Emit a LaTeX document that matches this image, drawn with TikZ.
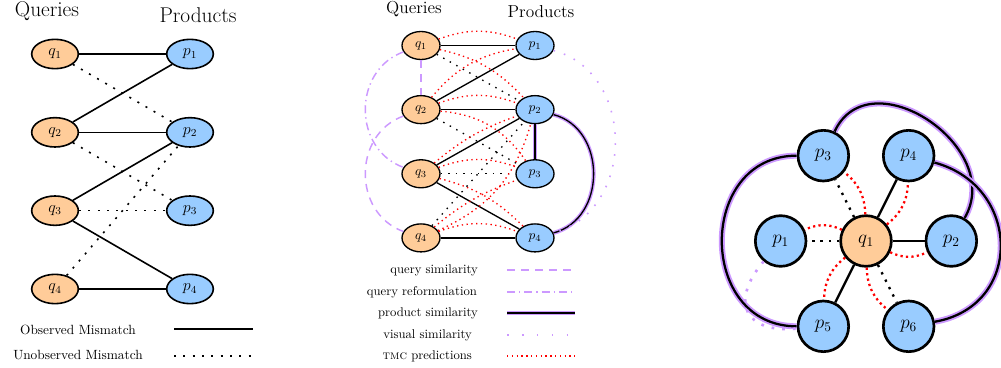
\documentclass[tikz,border=0pt]{standalone}
\usepackage{color}
\usepackage{tikz}
\usepackage{amsmath}
\usepackage{amssymb}
\usetikzlibrary{arrows,automata,shapes.geometric}

\definecolor{qorange}{RGB}{255,204,153}
\definecolor{pblue}{RGB}{153,204,255}
\definecolor{simpurple}{RGB}{204,153,255}

\begin{document}
\begin{tikzpicture}[x=0.75pt,y=-0.75pt]
\useasboundingbox (0,0) rectangle (1001,368);

% left: observed and unobserved mismatches
\begin{scope}[node distance=58.75pt,line width=1.2pt]
\tikzstyle{query}=[ellipse,draw=black,fill=qorange,text=black,minimum width=35pt,minimum height=22pt,inner sep=0pt,font=\large]
\tikzstyle{product}=[ellipse,draw=black,fill=pblue,text=black,minimum width=35pt,minimum height=22pt,inner sep=0pt,font=\large]
\tikzstyle{obs}=[draw=black]
\tikzstyle{unobs}=[draw=black,dash pattern=on 1.5pt off 5.5pt]

\node (qhead) at (47,16) [anchor=base,font=\fontsize{16}{19}\selectfont] {Queries};
\node (phead) at (198,22) [anchor=base,font=\fontsize{16}{19}\selectfont] {Products};

\node[query]   (q1) at (55,54)                           {$q_1$};
\node[query]   (q2) [below of=q1]                        {$q_2$};
\node[query]   (q3) [below of=q2]                        {$q_3$};
\node[query]   (q4) [below of=q3]                        {$q_4$};
\node[product] (p1) [node distance=101.25pt,right of=q1] {$p_1$};
\node[product] (p2) [below of=p1]                        {$p_2$};
\node[product] (p3) [below of=p2]                        {$p_3$};
\node[product] (p4) [below of=p3]                        {$p_4$};

\path (q1) edge[obs]   (p1)
           edge[unobs] (p2)
      (q2) edge[obs]   (p1)
           edge[obs]   (p2)
           edge[unobs] (p3)
      (q3) edge[obs]   (p2)
           edge[unobs] (p3)
           edge[obs]   (p4)
      (q4) edge[unobs] (p2)
           edge[obs]   (p4);

\node (obslabel)   at (78,330) {Observed Mismatch};
\node (unobslabel) at (78,355) {Unobserved Mismatch};
\coordinate (obsA)   at (174,329);
\coordinate (obsB)   at (253,329);
\coordinate (unobsA) at (174,356);
\coordinate (unobsB) at (253,356);
\draw[obs]   (obsA) -- (obsB);
\draw[unobs] (unobsA) -- (unobsB);
\end{scope}

% middle: similarities and tmc predictions
\begin{scope}[node distance=48.1pt,line width=1pt]
\tikzstyle{query}=[ellipse,draw=black,fill=qorange,text=black,minimum width=28.5pt,minimum height=21pt,inner sep=0pt]
\tikzstyle{product}=[ellipse,draw=black,fill=pblue,text=black,minimum width=28.5pt,minimum height=21pt,inner sep=0pt]
\tikzstyle{obs}=[draw=black]
\tikzstyle{unobs}=[draw=black,dash pattern=on 1.1pt off 4.5pt]
\tikzstyle{tmc}=[draw=red,dash pattern=on 1pt off 2.6pt]
\tikzstyle{qsim}=[draw=simpurple,line width=1.1pt,dash pattern=on 6pt off 4.5pt]
\tikzstyle{qref}=[draw=simpurple,line width=1.1pt,dash pattern=on 6pt off 3pt on 1pt off 3pt]
\tikzstyle{psim}=[draw=black,preaction={draw=simpurple,line width=3pt}]
\tikzstyle{vsim}=[draw=simpurple,line width=1.2pt,dash pattern=on 1.2pt off 7pt]

\node (qheadb) at (414,13) [anchor=base,font=\fontsize{13}{16}\selectfont] {Queries};
\node (pheadb) at (541,17) [anchor=base,font=\fontsize{13}{16}\selectfont] {Products};

\node[query]   (q1b) at (421,45.5)                        {$q_1$};
\node[query]   (q2b) [below of=q1b]                       {$q_2$};
\node[query]   (q3b) [below of=q2b]                       {$q_3$};
\node[query]   (q4b) [below of=q3b]                       {$q_4$};
\node[product] (p1b) [node distance=85.5pt,right of=q1b]  {$p_1$};
\node[product] (p2b) [below of=p1b]                       {$p_2$};
\node[product] (p3b) [below of=p2b]                       {$p_3$};
\node[product] (p4b) [below of=p3b]                       {$p_4$};

\path (q1b) edge[obs]   (p1b)
            edge[unobs] (p2b)
      (q2b) edge[obs]   (p1b)
            edge[obs]   (p2b)
            edge[unobs] (p3b)
      (q3b) edge[obs]   (p2b)
            edge[unobs] (p3b)
            edge[obs]   (p4b)
      (q4b) edge[unobs] (p2b)
            edge[obs]   (p4b);

\path (q1b) edge[tmc,bend left=20] (p1b)
            edge[tmc,bend left=17] (p2b)
      (q2b) edge[tmc,bend left=20] (p1b)
            edge[tmc,bend left=20] (p2b)
            edge[tmc,bend left=25] (p3b)
      (q3b) edge[tmc,bend left=10] (p2b)
            edge[tmc,bend left=20] (p3b)
            edge[tmc,bend left=15] (p4b)
      (q4b) edge[tmc,bend right=25] (p2b)
            edge[tmc,bend left=10] (p3b)
            edge[tmc,bend left=20] (p4b);

\path (q1b) edge[qsim] (q2b)
      (q2b) edge[qsim,bend right=70,looseness=1.2] (q4b)
      (q1b) edge[qref,bend right=70,looseness=1.2] (q3b)
      (p2b) edge[psim] (p3b)
            edge[psim,out=-15,in=15,looseness=1.2] (p4b)
      (p1b) edge[vsim,out=-15,in=15,looseness=1.2] (p4b);

\begin{scope}[font=\fontsize{9.5}{11}\selectfont]
\node (qsimlabel) at (483,270) [anchor=east] {query similarity};
\node (qreflabel) at (482,292) [anchor=east] {query reformulation};
\node (psimlabel) at (483,313) [anchor=east] {product similarity};
\node (vsimlabel) at (477,335) [anchor=east] {visual similarity};
\node (tmclabel)  at (477,356) [anchor=east] {\textsc{tmc} predictions};
\end{scope}
\coordinate (qsimA) at (507,270);  \coordinate (qsimB) at (575,270);
\coordinate (qrefA) at (507,292);  \coordinate (qrefB) at (575,292);
\coordinate (psimA) at (507,313);  \coordinate (psimB) at (575,313);
\coordinate (vsimA) at (507,335);  \coordinate (vsimB) at (575,335);
\coordinate (tmcA)  at (507,356);  \coordinate (tmcB)  at (575,356);
\draw[qsim] (qsimA) -- (qsimB);
\draw[qref] (qrefA) -- (qrefB);
\draw[psim] (psimA) -- (psimB);
\draw[vsim,dash pattern=on 1.2pt off 10pt] (vsimA) -- (vsimB);
\draw[tmc]  (tmcA) -- (tmcB);
\end{scope}

% right: one query with its products
\begin{scope}[node distance=64pt,line width=1.7pt]
\tikzstyle{every state}=[draw=black,fill=pblue,text=black,minimum size=38pt,inner sep=0pt,line width=2pt,font=\Large]
\tikzstyle{obs}=[draw=black]
\tikzstyle{unobs}=[draw=black,dash pattern=on 1.8pt off 4.4pt]
\tikzstyle{tmc}=[draw=red,dash pattern=on 1.7pt off 2.4pt]
\tikzstyle{psim}=[draw=black,preaction={draw=simpurple,line width=4.5pt}]
\tikzstyle{vsim}=[draw=simpurple,line width=2pt,dash pattern=on 2pt off 6pt]

\node[state,fill=qorange] (q1c) at (866,241)            {$q_1$};
\node[state] (p1c) [left of=q1c]                        {$p_1$};
\node[state] (p2c) [right of=q1c]                       {$p_2$};
\node[state] (p3c) [above of=q1c,xshift=-32pt]          {$p_3$};
\node[state] (p4c) [above of=q1c,xshift=32pt]           {$p_4$};
\node[state] (p5c) [below of=q1c,xshift=-32pt]          {$p_5$};
\node[state] (p6c) [below of=q1c,xshift=32pt]           {$p_6$};

\path (q1c) edge[obs]   (p4c)
            edge[obs]   (p2c)
            edge[obs]   (p5c)
            edge[unobs] (p3c)
            edge[unobs] (p1c)
            edge[unobs] (p6c);
\foreach \n in {1,...,6}
  \path (q1c) edge[tmc,bend right=25] (p\n c);

\path (p3c) edge[psim,out=180,in=180,looseness=1.5] (p5c)
      (p3c) edge[psim,out=65,in=60,looseness=1.35] (p2c)
      (p4c) edge[psim,out=-15,in=10,looseness=1.45] (p6c)
      (p1c) edge[vsim,out=-130,in=185,looseness=1.8] (p5c);
\end{scope}
\end{tikzpicture}
\end{document}
